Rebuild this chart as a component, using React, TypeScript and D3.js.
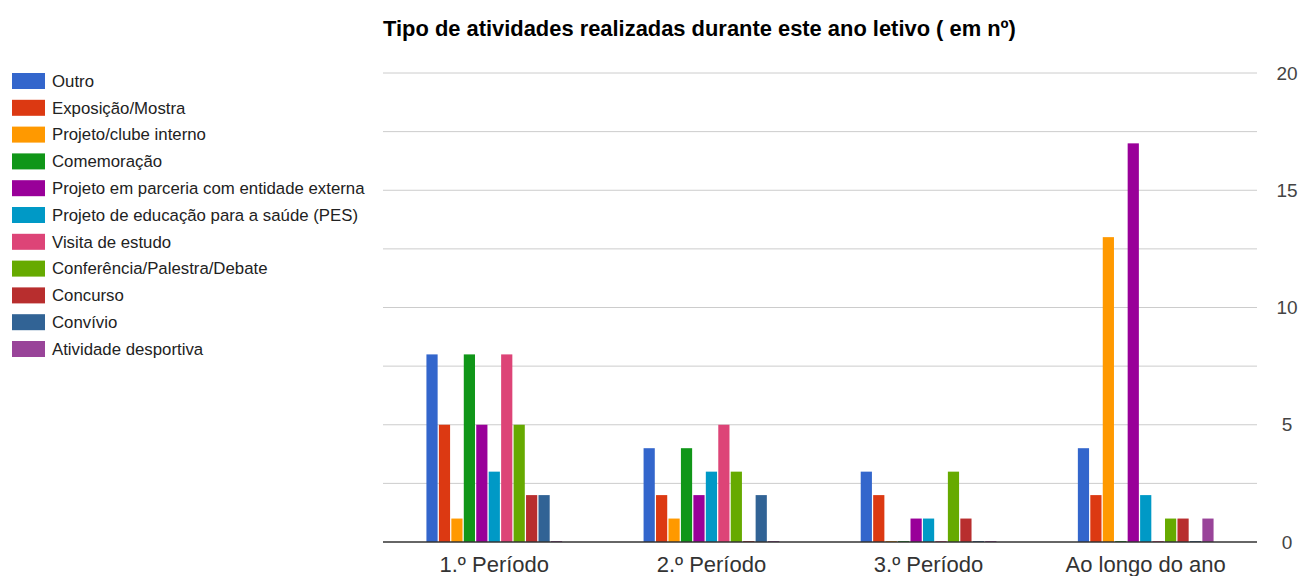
import React, { useEffect, useRef } from 'react';
import * as d3 from 'd3';

const title = 'Tipo de atividades realizadas durante este ano letivo ( em nº)';
const periods = ['1.º Período', '2.º Período', '3.º Período', 'Ao longo do ano'];
const seriesNames = [
  'Outro',
  'Exposição/Mostra',
  'Projeto/clube interno',
  'Comemoração',
  'Projeto em parceria com entidade externa',
  'Projeto de educação para a saúde (PES)',
  'Visita de estudo',
  'Conferência/Palestra/Debate',
  'Concurso',
  'Convívio',
  'Atividade desportiva',
];
const seriesColors = [
  '#3366cc', '#dc3912', '#ff9900', '#109618', '#990099', '#0099c6',
  '#dd4477', '#66aa00', '#b82e2e', '#316395', '#994499',
];
// values per series, one entry per period
const outro = [8, 4, 3, 4];
const exposicao = [5, 2, 2, 2];
const clubeInterno = [1, 1, 0, 13];
const comemoracao = [8, 4, 0, 0];
const parceria = [5, 2, 1, 17];
const pes = [3, 3, 1, 2];
const visita = [8, 5, 0, 0];
const conferencia = [5, 3, 3, 1];
const concurso = [2, 0, 1, 1];
const convivio = [2, 2, 0, 0];
const desportiva = [0, 0, 0, 1];
const yTicks = [0, 5, 10, 15, 20];
const yGrid = [0, 2.5, 5, 7.5, 10, 12.5, 15, 17.5, 20];

const seriesValues = [
  outro, exposicao, clubeInterno, comemoracao, parceria, pes,
  visita, conferencia, concurso, convivio, desportiva,
];

const W = 1308;
const H = 576;
const FONT = '"Liberation Sans", Arial, Helvetica, sans-serif';

export default function App() {
  const svgRef = useRef<SVGSVGElement>(null);

  useEffect(() => {
    if (!svgRef.current) return;
    const svg = d3.select(svgRef.current);
    svg.selectAll('*').remove();

    const plot = { left: 383, right: 1257, top: 73, bottom: 542 };

    const x0 = d3.scaleBand<string>()
      .domain(periods)
      .range([plot.left, plot.right])
      .paddingInner(0.375)
      .paddingOuter(0.2);

    const x1 = d3.scaleBand<string>()
      .domain(seriesNames)
      .range([0, x0.bandwidth()])
      .paddingInner(0.1);

    const y = d3.scaleLinear().domain([0, 20]).range([plot.bottom, plot.top]);

    // title
    svg.append('text')
      .attr('x', plot.left)
      .attr('y', 36)
      .style('font-family', FONT)
      .style('font-size', '21.9px')
      .style('font-weight', 'bold')
      .style('fill', '#000')
      .text(title);

    // gridlines
    svg.append('g')
      .selectAll('line')
      .data(yGrid.filter((d) => d !== 0))
      .enter()
      .append('line')
      .attr('x1', plot.left)
      .attr('x2', plot.right)
      .attr('y1', (d: number) => y(d))
      .attr('y2', (d: number) => y(d))
      .attr('stroke', '#cccccc')
      .attr('stroke-width', 1);

    // right axis labels
    svg.append('g')
      .selectAll('text')
      .data(yTicks)
      .enter()
      .append('text')
      .attr('x', 1287)
      .attr('y', (d: number) => y(d))
      .attr('dy', '0.35em')
      .attr('text-anchor', 'middle')
      .style('font-family', FONT)
      .style('font-size', '19px')
      .style('fill', '#444')
      .text((d: number) => String(d));

    // bars
    const groups = svg.append('g')
      .selectAll('g')
      .data(periods)
      .enter()
      .append('g')
      .attr('transform', (p: string) => `translate(${x0(p)},0)`);

    groups.selectAll('rect')
      .data((p: string) => seriesNames.map((s, si) => ({ s, si, v: seriesValues[si][periods.indexOf(p)] })))
      .enter()
      .append('rect')
      .attr('x', (d: any) => x1(d.s))
      .attr('width', x1.bandwidth())
      .attr('y', (d: any) => (d.v === 0 ? y(0) - 1 : y(d.v)))
      .attr('height', (d: any) => (d.v === 0 ? 1 : y(0) - y(d.v)))
      .attr('fill', (d: any) => seriesColors[d.si]);

    // baseline
    svg.append('line')
      .attr('x1', plot.left)
      .attr('x2', plot.right)
      .attr('y1', y(0))
      .attr('y2', y(0))
      .attr('stroke', '#333')
      .attr('stroke-width', 1.5);

    // category labels
    svg.append('g')
      .selectAll('text')
      .data(periods)
      .enter()
      .append('text')
      .attr('x', (p: string) => (x0(p) as number) + x0.bandwidth() / 2)
      .attr('y', 572)
      .attr('text-anchor', 'middle')
      .style('font-family', FONT)
      .style('font-size', '22px')
      .style('fill', '#333')
      .text((p: string) => p);

    // legend
    const legend = svg.append('g')
      .selectAll('g')
      .data(seriesNames)
      .enter()
      .append('g')
      .attr('transform', (_: string, i: number) => `translate(12,${73 + i * 26.8})`);

    legend.append('rect')
      .attr('width', 33)
      .attr('height', 16)
      .attr('fill', (_: string, i: number) => seriesColors[i]);

    legend.append('text')
      .attr('x', 40)
      .attr('y', 8)
      .attr('dy', '0.35em')
      .style('font-family', FONT)
      .style('font-size', '16.8px')
      .style('fill', '#222')
      .text((d: string) => d);
  }, []);

  return (
    <div style={{ position: 'absolute', left: 0, top: 0, width: W, height: H, background: '#fff' }}>
      <svg ref={svgRef} width={W} height={H} />
    </div>
  );
}
